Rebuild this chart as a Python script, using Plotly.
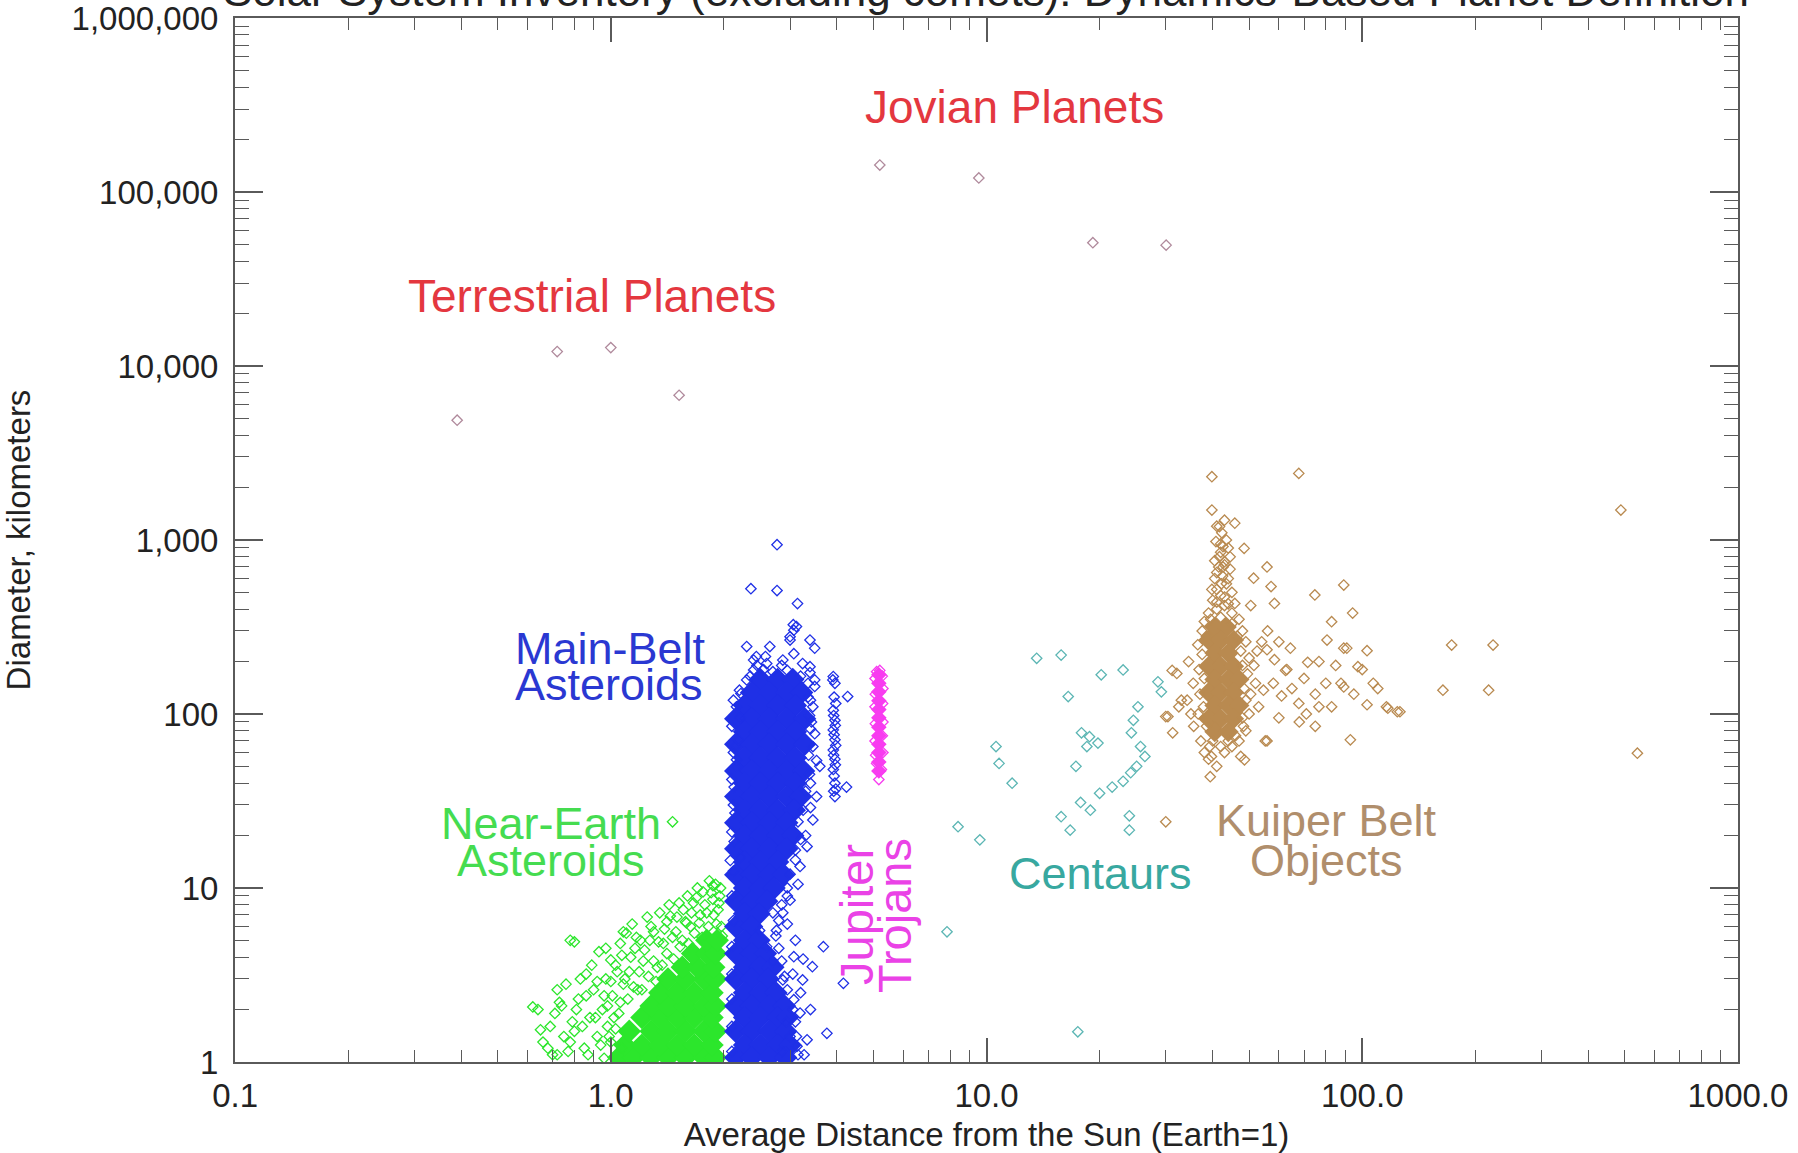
import plotly.graph_objects as go

# ---------------------------------------------------------------------------
# Solar system inventory: semi-major axis (AU) vs. diameter (km)
# ---------------------------------------------------------------------------

TERRESTRIAL = [(0.39, 4879), (0.72, 12104), (1.00, 12756), (1.52, 6792)]
JOVIAN = [(5.20, 142984), (9.54, 120536), (19.19, 51118), (30.07, 49528)]

# densely packed part of the main belt
MBA_CORE = [
    (2.5, 158), (2.78, 158), (3.05, 158),
    (2.37, 133), (2.64, 133), (2.94, 133), (3.22, 133),
    (2.27, 112), (2.5, 112), (2.78, 112), (3.1, 112),
    (2.15, 94), (2.37, 94), (2.64, 94), (2.94, 94), (3.28, 94),
    (2.27, 79), (2.5, 79), (2.78, 79), (3.1, 79),
    (2.15, 67), (2.37, 67), (2.64, 67), (2.94, 67), (3.28, 67),
    (2.27, 56), (2.5, 56), (2.78, 56), (3.1, 56),
    (2.15, 47), (2.37, 47), (2.64, 47), (2.94, 47), (3.26, 47),
    (2.27, 40), (2.5, 40), (2.78, 40), (3.1, 40),
    (2.15, 33.5), (2.37, 33.5), (2.64, 33.5), (2.94, 33.5), (3.2, 33.5),
    (2.27, 28), (2.5, 28), (2.78, 28), (3.08, 28),
    (2.15, 23.7), (2.37, 23.7), (2.64, 23.7), (2.94, 23.7),
    (2.27, 20), (2.5, 20), (2.78, 20), (3.05, 20),
    (2.15, 16.8), (2.37, 16.8), (2.64, 16.8), (2.94, 16.8),
    (2.27, 14.1), (2.5, 14.1), (2.78, 14.1),
    (2.15, 11.9), (2.37, 11.9), (2.64, 11.9), (2.88, 11.9),
    (2.27, 10), (2.5, 10), (2.72, 10),
    (2.15, 8.4), (2.37, 8.4), (2.6, 8.4),
    (2.27, 7.1), (2.48, 7.1),
    (2.15, 6.0), (2.37, 6.0),
    (2.27, 5.0), (2.48, 5.0),
    (2.15, 4.2), (2.37, 4.2), (2.58, 4.2),
    (2.27, 3.5), (2.5, 3.5), (2.7, 3.5),
    (2.15, 3.0), (2.37, 3.0), (2.62, 3.0),
    (2.27, 2.5), (2.5, 2.5), (2.75, 2.5),
    (2.15, 2.1), (2.37, 2.1), (2.64, 2.1), (2.9, 2.1),
    (2.27, 1.8), (2.5, 1.8), (2.78, 1.8), (2.95, 1.8),
    (2.15, 1.5), (2.37, 1.5), (2.64, 1.5), (2.92, 1.5),
    (2.27, 1.25), (2.5, 1.25), (2.78, 1.25), (3.0, 1.25),
    (2.15, 1.06), (2.37, 1.06), (2.64, 1.06), (2.92, 1.06),
]

# individually visible main-belt objects (incl. the Hilda group near 4 AU)
MBA_SPARSE = [
    (2.77, 940), (2.36, 525), (2.77, 512), (3.14, 431), (3.06, 326),
    (3.39, 266), (3.49, 239), (3.12, 318), (3.0, 278), (2.65, 244),
    (2.58, 214), (2.40, 204), (2.2, 137), (2.16, 110), (2.14, 65),
    (2.16, 50), (2.14, 27), (3.39, 187), (3.49, 157), (3.45, 110),
    (3.49, 77), (3.53, 54),
    (3.91, 164), (3.95, 150), (3.91, 105), (3.95, 92), (3.91, 81),
    (3.95, 71), (3.91, 62), (3.95, 55), (3.91, 48), (3.95, 40),
    (3.95, 33.5), (4.27, 126), (4.24, 38), (3.93, 125), (3.97, 115),
    (3.92, 98), (3.96, 86), (3.93, 76), (3.97, 66), (3.92, 58),
    (3.96, 51), (3.93, 44), (3.97, 37), (3.92, 36), (3.9, 157),
    (3.68, 4.6), (4.16, 2.83), (3.76, 1.46), (3.44, 3.53), (3.24, 2.96),
    (3.19, 1.91), (3.33, 1.34), (3.07, 4.03), (2.87, 7.2), (2.76, 5.7),
    (3.0, 8.5), (3.19, 13.3), (3.33, 17.3), (3.45, 24.6), (3.53, 33.5),
    (3.6, 50), (2.21, 15), (2.08, 14.4), (2.13, 18.5), (2.13, 38),
    (2.16, 54.6), (2.19, 71), (2.21, 95), (2.22, 131),
    (2.3, 157), (2.4, 179), (2.6, 195), (2.87, 204), (3.07, 222),
    (3.24, 195), (3.39, 173), (3.49, 144), (2.44, 214), (3.07, 303),
    (3.0, 266), (2.3, 244),
    (3.07, 2.28), (2.94, 1.7), (3.13, 1.23), (2.87, 2.96), (2.7, 3.8),
    (2.6, 4.6), (2.49, 5.7), (2.7, 7.2), (2.95, 6.2), (3.1, 5.0),
    (3.25, 3.9), (3.05, 3.2), (3.2, 2.5), (3.0, 1.4), (3.27, 1.1),
    (2.85, 1.15), (3.4, 2.0), (3.15, 10.5), (2.95, 10), (3.1, 16.5),
    (3.3, 20), (3.4, 29), (3.4, 40), (3.45, 65), (3.42, 90), (3.35, 125),
    # edge of the dense band
    (2.12, 120), (2.1, 85), (2.12, 60), (2.1, 42), (2.12, 30), (2.1, 21),
    (2.12, 12.5), (2.1, 9), (2.12, 6.5), (2.1, 4.6), (2.1, 3.2), (2.1, 2.3),
    (2.1, 1.6), (2.1, 1.15),
    (3.35, 150), (3.4, 120), (3.38, 98), (3.4, 82), (3.36, 58), (3.38, 45),
    (3.3, 36), (3.25, 28), (3.15, 24), (3.2, 19), (3.1, 14.5), (3.0, 12),
    (2.95, 9), (2.85, 8), (2.8, 6.5), (2.75, 5.3), (2.8, 4.5), (2.85, 3.8),
    (2.9, 3.1), (2.95, 2.6), (3.05, 2.0), (3.1, 1.7), (3.12, 1.4), (3.15, 1.1),
    (2.35, 165), (2.55, 180), (2.7, 175), (2.95, 178), (3.2, 165),
    (2.45, 190), (2.85, 190),
]

# densely packed near-Earth asteroids
NEA_CORE = [
    (1.05, 1.06), (1.15, 1.06), (1.28, 1.06), (1.42, 1.06), (1.58, 1.06), (1.77, 1.06), (1.9, 1.06),
    (1.09, 1.25), (1.21, 1.25), (1.35, 1.25), (1.5, 1.25), (1.67, 1.25), (1.86, 1.25),
    (1.12, 1.5), (1.28, 1.5), (1.42, 1.5), (1.58, 1.5), (1.77, 1.5), (1.9, 1.5),
    (1.21, 1.8), (1.35, 1.8), (1.5, 1.8), (1.67, 1.8), (1.86, 1.8),
    (1.28, 2.1), (1.42, 2.1), (1.58, 2.1), (1.77, 2.1), (1.9, 2.1),
    (1.35, 2.5), (1.5, 2.5), (1.67, 2.5), (1.86, 2.5),
    (1.42, 3.0), (1.58, 3.0), (1.77, 3.0), (1.9, 3.0),
    (1.55, 3.5), (1.7, 3.5), (1.88, 3.5),
    (1.65, 4.2), (1.8, 4.2), (1.9, 4.2),
    (1.8, 5.0), (1.92, 5.0),
]

NEA_SPARSE = [
    (0.62, 2.07), (0.64, 2.0), (0.65, 1.53), (0.66, 1.3), (0.70, 1.1),
    (0.72, 1.1), (0.73, 2.2), (0.72, 2.6), (0.74, 2.1), (0.78, 1.3),
    (0.78, 5.0), (0.80, 4.9), (0.79, 1.7), (0.82, 2.3), (0.85, 1.2),
    (0.86, 3.2), (0.88, 1.8), (0.90, 2.6), (0.92, 1.4), (0.93, 4.3),
    (0.95, 2.0), (0.97, 3.0), (0.98, 1.6), (1.00, 3.86), (1.01, 2.4),
    (1.03, 3.6), (1.05, 1.9), (1.06, 4.8), (1.07, 4.1), (1.08, 2.8),
    (1.10, 5.5), (1.12, 3.3), (1.14, 6.2), (1.16, 4.5), (1.18, 2.6),
    (1.20, 5.0), (1.22, 3.8), (1.25, 6.8), (1.27, 5.0), (1.30, 5.6),
    (1.33, 3.5), (1.35, 7.2), (1.38, 4.8), (1.41, 6.4), (1.43, 8.0),
    (1.46, 5.2), (1.50, 6.8), (1.53, 4.6), (1.56, 7.5), (1.59, 6.3),
    (1.60, 9.0), (1.63, 6.0), (1.66, 8.2), (1.70, 10.0), (1.73, 7.0),
    (1.76, 9.5), (1.80, 7.2), (1.83, 11.0), (1.87, 8.6), (1.87, 10.3),
    (1.90, 10.5), (1.93, 7.5), (1.95, 9.0), (1.97, 6.0), (1.46, 24.0),
    (0.68, 1.2), (0.69, 1.6), (0.71, 1.9), (0.75, 1.4), (0.76, 2.8),
    (0.77, 1.15), (0.80, 1.5), (0.81, 2.0), (0.83, 3.0), (0.84, 1.6),
    (0.86, 2.4), (0.87, 1.1), (0.89, 3.6), (0.91, 1.8), (0.92, 2.9),
    (0.94, 1.25), (0.96, 2.4), (0.97, 4.5), (0.99, 1.4), (1.00, 2.9),
    (1.02, 1.8), (1.04, 3.3), (1.06, 2.2), (1.08, 5.6), (1.09, 3.0),
    (1.11, 2.3), (1.13, 4.0), (1.15, 2.7), (1.17, 5.2), (1.19, 3.3),
    (1.21, 2.6), (1.23, 4.4), (1.26, 3.1), (1.28, 6.0), (1.30, 3.8),
    (1.32, 2.9), (1.34, 4.9), (1.37, 3.6), (1.39, 5.8), (1.41, 4.2),
    (1.44, 6.9), (1.47, 3.9), (1.49, 5.6), (1.52, 8.2), (1.55, 5.0),
    (1.58, 6.4), (1.61, 4.8), (1.64, 7.2), (1.67, 5.5), (1.69, 8.8),
    (1.72, 6.3), (1.75, 5.2), (1.78, 8.0), (1.82, 6.0), (1.85, 9.4),
    (1.88, 7.0), (1.91, 6.2), (1.94, 8.2), (1.96, 10.0), (1.98, 5.3),
    (0.96, 1.05), (1.0, 1.3), (0.98, 2.1), (1.03, 1.55), (1.07, 1.2),
]

# Jupiter Trojans around 5.2 AU
TROJAN_CORE = [
    (5.17, 168), (5.17, 150), (5.17, 134), (5.17, 119), (5.17, 106), (5.17, 95),
    (5.17, 84), (5.17, 75), (5.17, 67), (5.17, 60), (5.17, 53), (5.17, 47),
]
TROJAN_SPARSE = [
    (5.05, 160), (5.3, 140), (5.05, 110), (5.3, 90), (5.05, 70), (5.3, 60),
    (5.1, 52), (5.25, 48), (5.17, 42), (5.2, 178), (5.1, 175),
    (5.28, 165), (5.06, 130), (5.29, 115), (5.06, 88), (5.28, 75), (5.07, 58),
]

CENTAURS = [
    (13.6, 209), (15.8, 218), (20.2, 168), (23.1, 179), (16.5, 126),
    (28.6, 153), (29.2, 134), (25.3, 110), (24.6, 92), (24.3, 78),
    (17.9, 78), (18.8, 74), (19.8, 68), (18.5, 65), (25.7, 65),
    (26.4, 57), (25.1, 50), (17.3, 50), (10.6, 65), (10.8, 52),
    (11.7, 40), (20.0, 35), (21.6, 38), (23.1, 41), (24.2, 46),
    (17.8, 31), (18.9, 28), (15.8, 25.7), (16.7, 21.5), (24.0, 26),
    (24.0, 21.5), (8.4, 22.5), (9.6, 18.9), (17.5, 1.49), (7.85, 5.6),
]

# densely packed classical Kuiper belt
KBO_CORE = [
    (40.5, 316), (43.5, 316),
    (39.0, 266), (42.0, 266), (45.5, 266),
    (40.5, 224), (44.0, 224),
    (39.0, 188), (42.0, 188), (45.5, 188),
    (40.5, 158), (44.0, 158), (47.0, 158),
    (39.0, 133), (42.0, 133), (45.5, 133),
    (40.5, 112), (44.0, 112), (47.0, 112),
    (39.0, 94), (42.0, 94), (45.5, 94),
    (40.5, 79), (44.0, 79),
]

KBO_SPARSE = [
    (39.8, 2312), (67.8, 2415), (488, 1486), (540, 59.5),
    (173, 249), (223, 249), (164, 137), (217, 137),
    (124, 103), (116, 110), (107, 150), (103, 113), (89.3, 551),
    (74.8, 483), (94.3, 380), (82.9, 339), (80.6, 266), (89.3, 239),
    (91.0, 239), (103, 231), (97.4, 187), (76.7, 200), (64.4, 239),
    (87.8, 150), (89.3, 143), (71.6, 198), (62.5, 178), (58.4, 205),
    (55.8, 234), (54.6, 137), (61.0, 127), (67.8, 115), (71.0, 100),
    (76.7, 110), (82.9, 110), (117, 108), (126, 103), (93.0, 71),
    (55.8, 70), (48.6, 54.5), (39.4, 43.6), (30.4, 96.6), (31.2, 178),
    (39.8, 1486), (41.7, 1194), (45.8, 1250), (42.6, 917), (48.5, 895),
    (41.7, 802), (42.6, 700), (55.8, 700), (51.4, 603), (57.2, 540),
    (58.4, 432), (45.8, 432), (50.5, 420),
    (36.5, 250), (36.8, 180), (37.0, 130), (36.6, 100), (37.2, 70),
    (38.0, 60), (39.0, 55), (41.0, 50), (43.0, 60), (45.0, 65),
    (47.0, 70), (49.0, 80), (50.0, 100), (50.5, 130), (49.5, 170),
    (50.0, 210), (49.0, 260), (48.0, 300), (47.0, 350), (45.0, 380),
    (43.0, 420), (41.0, 400), (39.0, 380), (38.0, 340), (37.5, 300),
    (40.0, 450), (42.0, 480), (44.0, 430), (41.0, 520), (43.5, 560),
    (42.5, 620), (40.5, 600), (44.5, 680), (41.5, 700), (43.0, 750),
    (42.0, 850), (44.0, 900), (40.8, 980), (42.3, 1100), (43.0, 1300),
    (32.1, 171), (34.2, 120), (30.0, 96.6), (31.3, 78), (35.0, 100),
    (35.6, 85), (33.0, 120), (34.5, 200), (35.5, 150), (32.5, 110),
    (39.3, 65), (39.7, 57), (47.5, 57), (55.2, 70), (48.3, 85),
    (52.0, 150), (53.0, 110), (51.5, 190), (54.0, 260), (30.0, 24),
    (37.5, 220), (38.0, 160), (37.8, 110), (38.5, 85), (40.0, 70),
    (42.0, 65), (44.0, 70), (46.0, 75), (48.0, 95), (49.0, 120),
    (48.5, 140), (48.0, 190), (47.5, 230), (46.5, 280), (45.0, 330),
    (42.0, 360), (39.5, 350), (38.5, 280), (41.0, 440), (43.0, 470),
    (45.0, 500), (39.8, 520), (42.2, 560), (44.0, 600), (41.0, 650),
    (43.0, 720), (40.5, 760), (44.5, 800), (42.0, 950), (43.5, 1000),
    (41.0, 1200), (52.5, 230), (56.0, 300), (60.0, 260), (63.0, 180),
    (58.0, 150), (65.0, 140), (70.0, 160), (75.0, 130), (80.0, 150),
    (85.0, 190), (95.0, 130), (100, 180), (110, 140), (68.0, 90),
    (60.0, 95), (75.0, 85),
]

X_TICKS = [0.1, 1, 10, 100, 1000]
X_TICKTEXT = ["0.1", "1.0", "10.0", "100.0", "1000.0"]
Y_TICKS = [1, 10, 100, 1000, 10000, 100000, 1000000]
Y_TICKTEXT = ["1", "10", "100", "1,000", "10,000", "100,000", "1,000,000"]

FONT = "Liberation Sans, Arial, Helvetica, sans-serif"

C_PLANET = "#b08a9c"
C_MBA = "#1f30e6"
C_NEA = "#2ce62c"
C_TROJAN = "#f83cf0"
C_CENTAUR = "#5cb6b4"
C_KBO = "#b98a50"


def xs(points):
    return [p[0] for p in points]


def ys(points):
    return [p[1] for p in points]


fig = go.Figure()


def add_open(points, color, size=8):
    fig.add_trace(go.Scatter(
        x=xs(points), y=ys(points), mode="markers", hoverinfo="x+y",
        marker=dict(symbol="diamond-open", size=size, color=color,
                    line=dict(width=1.3, color=color)),
    ))


def add_filled(points, color, size):
    fig.add_trace(go.Scatter(
        x=xs(points), y=ys(points), mode="markers", hoverinfo="x+y",
        marker=dict(symbol="diamond", size=size, color=color,
                    line=dict(width=0)),
    ))


add_open(CENTAURS, C_CENTAUR)
add_filled(KBO_CORE, C_KBO, 16)
add_open(KBO_SPARSE, C_KBO)
add_filled(NEA_CORE, C_NEA, 18)
add_open(NEA_SPARSE, C_NEA)
add_filled(MBA_CORE, C_MBA, 18)
add_open(MBA_SPARSE, C_MBA)
add_filled(TROJAN_CORE, C_TROJAN, 12)
add_open(TROJAN_SPARSE, C_TROJAN)
add_open(TERRESTRIAL, C_PLANET)
add_open(JOVIAN, C_PLANET)

# plot area in pixels: x 235..1738, y 18..1062
L, R, T, B = 235, 1738, 18, 1062


def px(x_pix, y_pix):
    return (x_pix - L) / (R - L), (B - y_pix) / (B - T)


def label(text, x_pix, y_pix, color, size=45, angle=0, xanchor="center"):
    xp, yp = px(x_pix, y_pix)
    fig.add_annotation(
        text=text, x=xp, y=yp, xref="paper", yref="paper",
        xanchor=xanchor, yanchor="middle", showarrow=False,
        textangle=angle, font=dict(family=FONT, size=size, color=color),
    )


C_RED = "#e4373f"
label("Jovian Planets", 1015, 107, C_RED, size=46)
label("Terrestrial Planets", 592, 296, C_RED, size=46)
label("Main-Belt", 513, 648, "#2a38d2", xanchor="left")
label("Asteroids", 513, 684, "#2a38d2", xanchor="left")
label("Near-Earth", 551, 823, "#45dc50")
label("Asteroids", 551, 860, "#45dc50")
label("Jupiter", 856, 915, "#ea42e6", size=47, angle=-90)
label("Trojans", 894, 916, "#ea42e6", size=47, angle=-90)
label("Centaurs", 1100, 873, "#38a8a0")
label("Kuiper Belt", 1326, 821, "#b08e6c")
label("Objects", 1326, 860, "#b08e6c")

# chart title sits partly above the top edge of the page
label("Solar System Inventory (excluding comets): Dynamics-Based Planet Definition",
      986, -10, "#222222", size=44)

AX_COLOR = "#5a5a5a"
axis_common = dict(
    type="log", showgrid=False, zeroline=False,
    showline=True, linecolor=AX_COLOR, linewidth=2, mirror="allticks",
    ticks="inside", tickcolor=AX_COLOR, tickwidth=1.5,
    tickmode="array", automargin=False, ticklabeloverflow="allow",
    tickfont=dict(family=FONT, size=33, color="#222222"),
)

fig.update_xaxes(
    **axis_common, range=[-1.0002, 3.0002], tickvals=X_TICKS, ticktext=X_TICKTEXT,
    ticklen=24, ticklabelstandoff=3,
    minor=dict(dtick="D1", ticks="inside", ticklen=12, tickwidth=1.2,
               tickcolor=AX_COLOR, showgrid=False),
    title=dict(text="Average Distance from the Sun (Earth=1)", standoff=14,
               font=dict(family=FONT, size=33, color="#222222")),
)
fig.update_yaxes(
    **axis_common, range=[-0.0003, 6.0003], tickvals=Y_TICKS, ticktext=Y_TICKTEXT,
    ticklen=28, ticklabelstandoff=8,
    minor=dict(dtick="D1", ticks="inside", ticklen=14, tickwidth=1.2,
               tickcolor=AX_COLOR, showgrid=False),
    title=dict(text="Diameter, kilometers", standoff=46,
               font=dict(family=FONT, size=33, color="#222222")),
)

fig.update_layout(
    width=1798, height=1153,
    margin=dict(l=L, r=1798 - R, t=T, b=1153 - B),
    paper_bgcolor="white", plot_bgcolor="white",
    showlegend=False,
    font=dict(family=FONT),
)

fig.write_html("out.html")
